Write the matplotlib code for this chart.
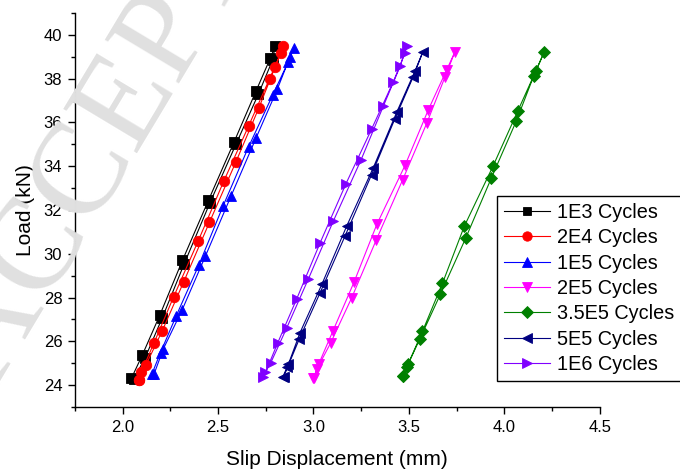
import matplotlib
matplotlib.use("Agg")
import matplotlib.pyplot as plt
from matplotlib.ticker import MultipleLocator

plt.rcParams['font.family'] = ['Liberation Sans', 'DejaVu Sans']

# Hysteresis loops: loading branch followed by unloading branch (Slip mm, Load kN)
x_1e3 = [2.047, 2.103, 2.195, 2.314, 2.450, 2.584, 2.699, 2.775, 2.800,
         2.786, 2.712, 2.594, 2.458, 2.322, 2.207, 2.117, 2.060]
y_1e3 = [24.32, 25.36, 27.19, 29.70, 32.44, 35.10, 37.43, 38.95, 39.50,
         38.85, 37.30, 35.00, 32.33, 29.52, 27.05, 25.22, 24.30]

x_2e4 = [2.085, 2.098, 2.164, 2.268, 2.396, 2.530, 2.661, 2.770, 2.831, 2.843,
         2.800, 2.715, 2.593, 2.455, 2.320, 2.207, 2.122, 2.085]
y_2e4 = [24.24, 24.58, 25.91, 28.04, 30.58, 33.31, 35.85, 37.99, 39.19, 39.50,
         38.55, 36.68, 34.18, 31.43, 28.71, 26.46, 24.91, 24.24]

x_1e5 = [2.155, 2.199, 2.281, 2.401, 2.526, 2.660, 2.787, 2.869, 2.896,
         2.878, 2.811, 2.700, 2.568, 2.434, 2.312, 2.213, 2.165]
y_1e5 = [24.53, 25.49, 27.16, 29.51, 32.17, 34.88, 37.26, 38.78, 39.39,
         39.01, 37.52, 35.30, 32.63, 29.89, 27.43, 25.64, 24.50]

x_2e5 = [3.000, 3.027, 3.102, 3.213, 3.332, 3.480, 3.602, 3.698, 3.742,
         3.689, 3.594, 3.468, 3.328, 3.201, 3.091, 3.018, 3.005]
y_2e5 = [24.31, 24.95, 26.47, 28.71, 31.34, 34.04, 36.58, 38.40, 39.24,
         38.07, 35.97, 33.39, 30.61, 28.00, 25.94, 24.73, 24.31]

x_35e5 = [3.467, 3.496, 3.571, 3.676, 3.790, 3.940, 4.071, 4.164, 4.210,
          4.153, 4.062, 3.932, 3.797, 3.665, 3.557, 3.488, 3.470]
y_35e5 = [24.40, 24.96, 26.45, 28.65, 31.25, 33.99, 36.53, 38.33, 39.24,
          38.10, 36.05, 33.46, 30.70, 28.15, 26.10, 24.81, 24.40]

x_5e5 = [2.840, 2.869, 2.930, 3.044, 3.174, 3.313, 3.438, 3.531, 3.574,
         3.522, 3.426, 3.305, 3.165, 3.035, 2.927, 2.864, 2.845]
y_5e5 = [24.38, 24.96, 26.40, 28.60, 31.26, 33.92, 36.50, 38.33, 39.24,
         38.07, 36.15, 33.62, 30.80, 28.22, 26.13, 24.81, 24.38]

x_1e6 = [2.738, 2.812, 2.913, 3.035, 3.171, 3.306, 3.419, 3.480, 3.488,
         3.454, 3.367, 3.250, 3.104, 2.974, 2.861, 2.777, 2.747]
y_1e6 = [24.35, 25.91, 27.95, 30.50, 33.21, 35.72, 37.87, 39.17, 39.47,
         38.56, 36.76, 34.30, 31.49, 28.86, 26.63, 25.03, 24.58]

labels = ["1E3 Cycles", "2E4 Cycles", "1E5 Cycles", "2E5 Cycles",
          "3.5E5 Cycles", "5E5 Cycles", "1E6 Cycles"]
xs = [x_1e3, x_2e4, x_1e5, x_2e5, x_35e5, x_5e5, x_1e6]
ys = [y_1e3, y_2e4, y_1e5, y_2e5, y_35e5, y_5e5, y_1e6]
colors = ["#000000", "#ff0000", "#0000ff", "#ff00ff", "#008000", "#000080", "#8000ff"]
markers = ["s", "o", "^", "v", "D", "<", ">"]
msizes = [7, 7.5, 7.5, 7.5, 6.5, 7.5, 7.5]

fig = plt.figure(figsize=(6.8, 4.73), dpi=100)

# faint diagonal stamp behind the plot
fig.text(-0.006, 0.178, "ACCEPTED MANUSCRIPT", fontsize=95, color="#e0e0e0",
         family="Liberation Serif", rotation=59, rotation_mode="anchor",
         ha="left", va="baseline", zorder=0)

ax = fig.add_axes([0.110, 0.1395, 0.772, 0.833])
ax.patch.set_alpha(0)

for x, y, c, m, ms, lab in zip(xs, ys, colors, markers, msizes, labels):
    ax.plot(x, y, color=c, marker=m, markersize=ms, linewidth=0.8,
            markeredgewidth=0.6, label=lab)

ax.set_xlim(1.75, 4.5)
ax.set_ylim(23, 41)
ax.xaxis.set_major_locator(MultipleLocator(0.5))
ax.xaxis.set_minor_locator(MultipleLocator(0.25))
ax.yaxis.set_major_locator(MultipleLocator(2))
ax.yaxis.set_minor_locator(MultipleLocator(1))
ax.xaxis.set_major_formatter(plt.FuncFormatter(lambda v, p: f"{v:.1f}"))

for s in ("top", "right"):
    ax.spines[s].set_visible(False)
for s in ("left", "bottom"):
    ax.spines[s].set_linewidth(1.0)
ax.tick_params(which="major", direction="out", length=5, width=1.0,
               labelsize=12, colors="black", pad=4)
ax.tick_params(which="minor", direction="out", length=3, width=1.0)

ax.set_xlabel("Slip Displacement (mm)", fontsize=15, labelpad=11)
ax.set_ylabel("Load (kN)", fontsize=15, labelpad=6)

leg = ax.legend(loc="upper left", bbox_to_anchor=(497 / 680, 1 - 196 / 473),
                bbox_transform=fig.transFigure, fontsize=14.3, frameon=True,
                fancybox=False, shadow=False, handlelength=2.3,
                handletextpad=0.35, labelspacing=0.32, borderpad=0.35,
                borderaxespad=0, markerscale=0.9)
leg.get_frame().set_edgecolor("black")
leg.get_frame().set_linewidth(1.0)
leg.get_frame().set_alpha(1)

fig.savefig("out.png", dpi=100)
